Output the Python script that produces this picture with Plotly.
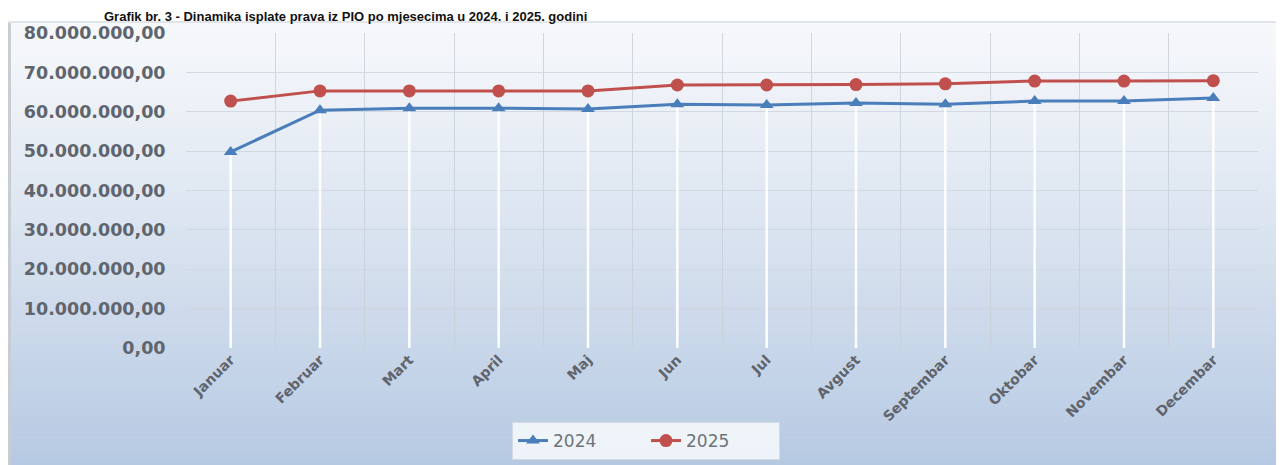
import plotly.graph_objects as go

months = ["Januar", "Februar", "Mart", "April", "Maj", "Jun", "Jul", "Avgust",
          "Septembar", "Oktobar", "Novembar", "Decembar"]
vals_2024 = [49.8e6, 60.4e6, 60.9e6, 60.9e6, 60.7e6, 61.9e6, 61.7e6, 62.2e6,
             61.9e6, 62.7e6, 62.7e6, 63.5e6]
vals_2025 = [62.7e6, 65.3e6, 65.3e6, 65.3e6, 65.3e6, 66.8e6, 66.8e6, 66.9e6,
             67.1e6, 67.8e6, 67.8e6, 67.9e6]
title_text = "Grafik br. 3 - Dinamika isplate prava iz PIO po mjesecima u 2024. i 2025. godini"

W, H = 1284, 465
OFF = 8  # page offset of the figure (body margin)
PL, PR, PT, PB = 186, 1258, 33, 348  # plot area in page pixels
L, T = PL - OFF, PT - OFF
R, B = W - (PR - OFF), H - (PB - OFF)

def px_x(p):
    return (p - PL) / (PR - PL)

def px_y(p):
    return (PB - p) / (PB - PT)

fig = go.Figure()

# drop lines (white) from each point down to the axis
dx, dy = [], []
for m, a, b in zip(months, vals_2024, vals_2025):
    dx += [m, m, None]
    dy += [0, min(a, b), None]
fig.add_trace(go.Scatter(x=dx, y=dy, mode="lines", line=dict(color="rgba(255,255,255,0.95)", width=2.5),
                         showlegend=False, hoverinfo="skip"))

fig.add_trace(go.Scatter(x=months, y=vals_2024, name="2024", mode="lines+markers",
                         line=dict(color="#4a7ebb", width=3),
                         marker=dict(symbol="triangle-up", size=12, color="#4a7ebb")))
fig.add_trace(go.Scatter(x=months, y=vals_2025, name="2025", mode="lines+markers",
                         line=dict(color="#c0504d", width=3),
                         marker=dict(symbol="circle", size=13, color="#c0504d")))

# gradient background of the chart frame
shapes = []
top_px, bot_px, left_px = 21, H + 10, 8
n = 60
c0 = (246, 248, 251)
c1 = (181, 200, 226)
for i in range(n):
    t = i / (n - 1)
    col = tuple(int(round(c0[k] + (c1[k] - c0[k]) * (t ** 1.1))) for k in range(3))
    y0 = top_px + (bot_px - top_px) * i / n
    y1 = top_px + (bot_px - top_px) * (i + 1) / n + 0.6
    shapes.append(dict(type="rect", xref="paper", yref="paper", layer="below",
                       x0=px_x(left_px), x1=px_x(W + 20), y0=px_y(y1), y1=px_y(y0),
                       line=dict(width=0), fillcolor="rgb(%d,%d,%d)" % col))
# left edge & top shadow of frame
shapes.append(dict(type="rect", xref="paper", yref="paper", layer="below",
                   x0=px_x(left_px), x1=px_x(left_px + 3), y0=px_y(bot_px), y1=px_y(top_px),
                   line=dict(width=0), fillcolor="rgb(200,205,212)"))
shapes.append(dict(type="rect", xref="paper", yref="paper", layer="below",
                   x0=px_x(left_px), x1=px_x(W + 20), y0=px_y(top_px + 2), y1=px_y(top_px),
                   line=dict(width=0), fillcolor="rgb(225,228,233)"))

fig.update_layout(
    width=W, height=H,
    margin=dict(l=L, r=R, t=T, b=B, autoexpand=False),
    paper_bgcolor="white",
    plot_bgcolor="rgba(0,0,0,0)",
    separators=",.",
    shapes=shapes,
    showlegend=True,
    legend=dict(orientation="h", x=px_x(646), y=px_y(441), xanchor="center", yanchor="middle",
                bgcolor="rgba(248,250,253,0.85)", bordercolor="rgba(210,218,230,1)", borderwidth=1,
                font=dict(family="DejaVu Sans", size=17, color="#6d737c"),
                entrywidth=88, tracegroupgap=0),
    annotations=[dict(text="<b>" + title_text + "</b>", xref="paper", yref="paper",
                      x=px_x(102), y=px_y(OFF - 1), xanchor="left", yanchor="top",
                      showarrow=False, font=dict(family="Liberation Sans", size=13, color="#111"))],
)

fig.update_xaxes(type="category", tickson="boundaries", showgrid=True,
                 gridcolor="rgba(200,206,215,0.8)", gridwidth=1,
                 showline=False, zeroline=False, ticks="", tickangle=-45,
                 tickfont=dict(family="DejaVu Sans", size=14, color="#5f646c", weight="bold"),
                 range=[-0.5, 11.5], automargin=False)
fig.update_yaxes(range=[0, 80e6], dtick=10e6, tickformat=",.2f", showgrid=True,
                 gridcolor="rgba(205,211,220,0.8)", gridwidth=1, zeroline=False,
                 showline=False, ticks="outside", ticklen=16, tickcolor="rgba(0,0,0,0)",
                 tickfont=dict(family="DejaVu Sans", size=17.5, color="#60656d", weight="bold"),
                 automargin=False)

fig.write_html("out.html")
